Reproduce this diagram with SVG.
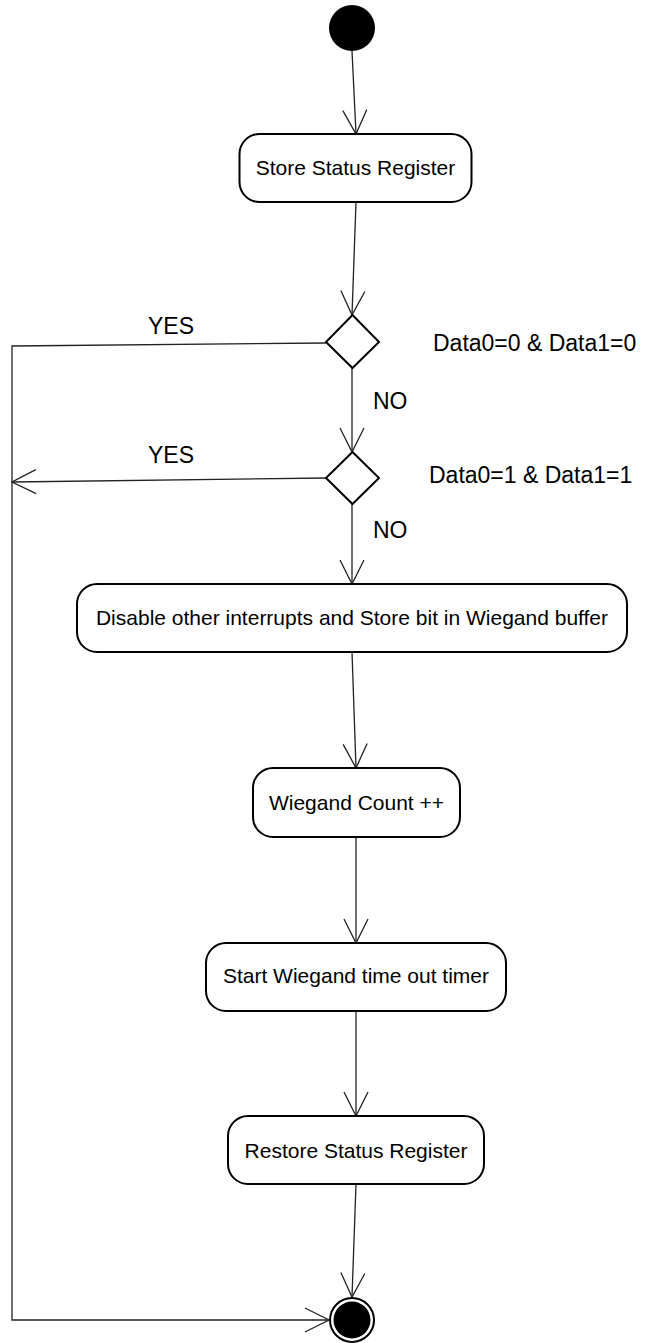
<svg xmlns="http://www.w3.org/2000/svg" width="647" height="1343" viewBox="0 0 647 1343">
  <style>
    .box { fill: #fff; stroke: #000; stroke-width: 2; }
    .dec { fill: #fff; stroke: #000; stroke-width: 2; }
    .txt { font-family: "Liberation Sans", Arial, sans-serif; font-size: 21px; fill: #000; }
    .cond { font-size: 23px; }
    .edge { fill: none; stroke: #222; stroke-width: 1.3; }
  </style>
  <defs>
    <!-- open V arrowhead used at the end of every flow -->
    <marker id="open" markerUnits="userSpaceOnUse" viewBox="-26 -14 28 28" markerWidth="28" markerHeight="28" refX="0" refY="0" orient="auto" overflow="visible">
      <path d="M-24,-12 L0,0 L-24,12" fill="none" stroke="#222" stroke-width="1.3"/>
    </marker>
  </defs>

  <!-- flows -->
  <g id="connectors">
    <path class="edge" d="M352,51 L356,134" marker-end="url(#open)"/>
    <path class="edge" d="M356,202 L352,315" marker-end="url(#open)"/>
    <path class="edge" d="M352,368 L352,452" marker-end="url(#open)"/>
    <path class="edge" d="M352,504 L352,584" marker-end="url(#open)"/>
    <path class="edge" d="M352,652 L356,768" marker-end="url(#open)"/>
    <path class="edge" d="M356,837 L356,943" marker-end="url(#open)"/>
    <path class="edge" d="M356,1011 L356,1116" marker-end="url(#open)"/>
    <path class="edge" d="M356,1184 L352,1297" marker-end="url(#open)"/>
    <path class="edge" d="M326,343 L12,346 L12,1320 L329,1320" marker-end="url(#open)"/>
    <path class="edge" d="M326,478 L12,482" marker-end="url(#open)"/>
    <text class="txt cond" x="148" y="334">YES</text>
    <text class="txt cond" x="148" y="463">YES</text>
    <text class="txt cond" x="373" y="409">NO</text>
    <text class="txt cond" x="373" y="538">NO</text>
  </g>

  <g id="start">
    <circle cx="352" cy="28" r="23" fill="#000"/>
  </g>

  <g id="store-status">
    <rect class="box" x="239.5" y="134" width="232" height="68" rx="20" ry="20"/>
    <text class="txt" x="355.5" y="175" text-anchor="middle">Store Status Register</text>
  </g>

  <g id="check-zero">
    <path class="dec" d="M352.5,315 L379,342 L352.5,368 L326,342 Z"/>
    <text class="txt cond" x="433" y="351">Data0=0 &amp; Data1=0</text>
  </g>

  <g id="check-one">
    <path class="dec" d="M352.5,452 L379,478 L352.5,504 L326,478 Z"/>
    <text class="txt cond" x="429" y="483">Data0=1 &amp; Data1=1</text>
  </g>

  <g id="store-bit">
    <rect class="box" x="77" y="584" width="550" height="68" rx="20" ry="20"/>
    <text class="txt" x="352" y="625" text-anchor="middle">Disable other interrupts and Store bit in Wiegand buffer</text>
  </g>

  <g id="count">
    <rect class="box" x="253" y="768" width="207" height="69" rx="20" ry="20"/>
    <text class="txt" x="356.5" y="810" text-anchor="middle">Wiegand Count ++</text>
  </g>

  <g id="timer">
    <rect class="box" x="206" y="943" width="300" height="68" rx="20" ry="20"/>
    <text class="txt" x="356" y="983" text-anchor="middle">Start Wiegand time out timer</text>
  </g>

  <g id="restore-status">
    <rect class="box" x="228" y="1116" width="256" height="68" rx="20" ry="20"/>
    <text class="txt" x="356" y="1158" text-anchor="middle">Restore Status Register</text>
  </g>

  <g id="end">
    <circle cx="352" cy="1320" r="22" fill="#fff" stroke="#000" stroke-width="2"/>
    <circle cx="352" cy="1320" r="18.5" fill="#000"/>
  </g>
</svg>
